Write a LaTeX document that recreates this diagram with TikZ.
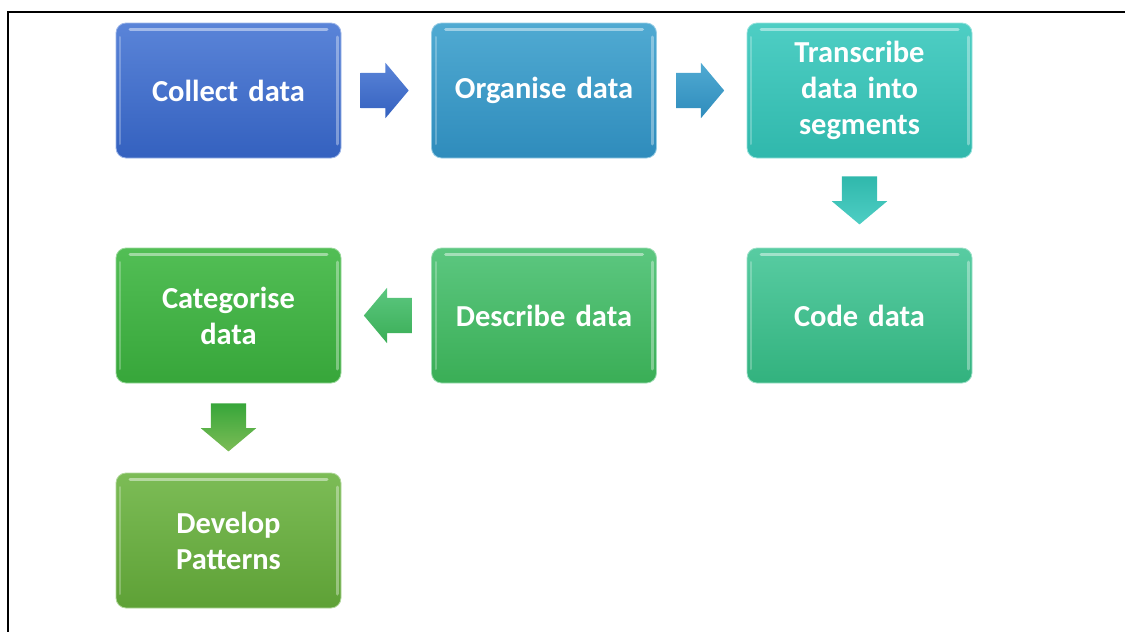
\documentclass[tikz,border=0pt]{standalone}
\usepackage{fontspec}
\setmainfont{Carlito}
\usetikzlibrary{calc,shapes.arrows}
\definecolor{bA}{HTML}{5A84D8}\definecolor{bB}{HTML}{3461BF}
\definecolor{cA}{HTML}{50AAD2}\definecolor{cB}{HTML}{2F8CBC}
\definecolor{tA}{HTML}{4ECEC4}\definecolor{tB}{HTML}{30B8AC}
\definecolor{mA}{HTML}{58CCA2}\definecolor{mB}{HTML}{32B27E}
\definecolor{gA}{HTML}{5CC780}\definecolor{gB}{HTML}{3AAE56}
\definecolor{hA}{HTML}{52BE55}\definecolor{hB}{HTML}{37A63A}
\definecolor{lA}{HTML}{7CBC56}\definecolor{lB}{HTML}{5EA136}
\begin{document}
\begin{tikzpicture}[x=1pt,y=-1pt,
  stepbox/.style 2 args={rounded corners=10pt, minimum width=225pt, minimum height=135pt,
    text width=188pt, align=center, inner sep=0pt,
    font=\bfseries\fontsize{30.5}{36}\selectfont, text=white,
    top color=#1, bottom color=#2, draw=#1!60!white, line width=0.8pt,
    path picture={
      \draw[white,opacity=.45,line width=3pt,line cap=round]
        ($(path picture bounding box.north west)+(14pt,-6pt)$) --
        ($(path picture bounding box.north east)+(-14pt,-6pt)$);
      \draw[white,opacity=.35,line width=3pt,line cap=round]
        ($(path picture bounding box.north east)+(-4pt,-14pt)$) --
        ($(path picture bounding box.south east)+(-4pt,14pt)$);
      \draw[white,opacity=.25,line width=2pt,line cap=round]
        ($(path picture bounding box.north west)+(4pt,-14pt)$) --
        ($(path picture bounding box.south west)+(4pt,14pt)$);
    }},
  blockarrow/.style 2 args={single arrow, minimum height=48pt,
    single arrow head extend=10pt, single arrow tip angle=100,
    inner xsep=0pt, inner ysep=17.5pt,
    top color=#1, bottom color=#2, draw=none}
]
\useasboundingbox (0,0) rectangle (1125,632);
\coordinate (fTR) at (1125,12);
\coordinate (fTL) at (8,12);
\coordinate (fBL) at (8,632);
\draw[line width=2.5pt] (fTR) -- (fTL) -- (fBL);

\node[stepbox={bA}{bB}] (b1) at (228.5,90.5) {Collect data};
\node[stepbox={cA}{cB}] (b2) at (544,90.5) {Organise data};
\node[stepbox={tA}{tB}] (b3) at (859.5,90.5) {Transcribe data into segments};
\node[stepbox={mA}{mB}] (b4) at (859.5,315.5) {Code data};
\node[stepbox={gA}{gB}] (b5) at (544,315.5) {Describe data};
\node[stepbox={hA}{hB}] (b6) at (228.5,315.5) {Categorise data};
\node[stepbox={lA}{lB}] (b7) at (228.5,540.5) {Develop Patterns};

\node[blockarrow={bA}{bB}] (a1) at ($(b1.east)!0.5!(b2.west)+(-9,0)$) {};
\node[blockarrow={cA}{cB}] (a2) at ($(b2.east)!0.5!(b3.west)+(-9,0)$) {};
\node[blockarrow={tB}{tA}, rotate=-90] (a3) at ($(b3.south)!0.5!(b4.north)+(0,-10)$) {};
\node[blockarrow={gA}{gB}, rotate=180] (a4) at ($(b6.east)!0.5!(b5.west)+(9,0)$) {};
\node[blockarrow={hB}{lA}, rotate=-90] (a5) at ($(b6.south)!0.5!(b7.north)+(0,-8)$) {};
\end{tikzpicture}
\end{document}
